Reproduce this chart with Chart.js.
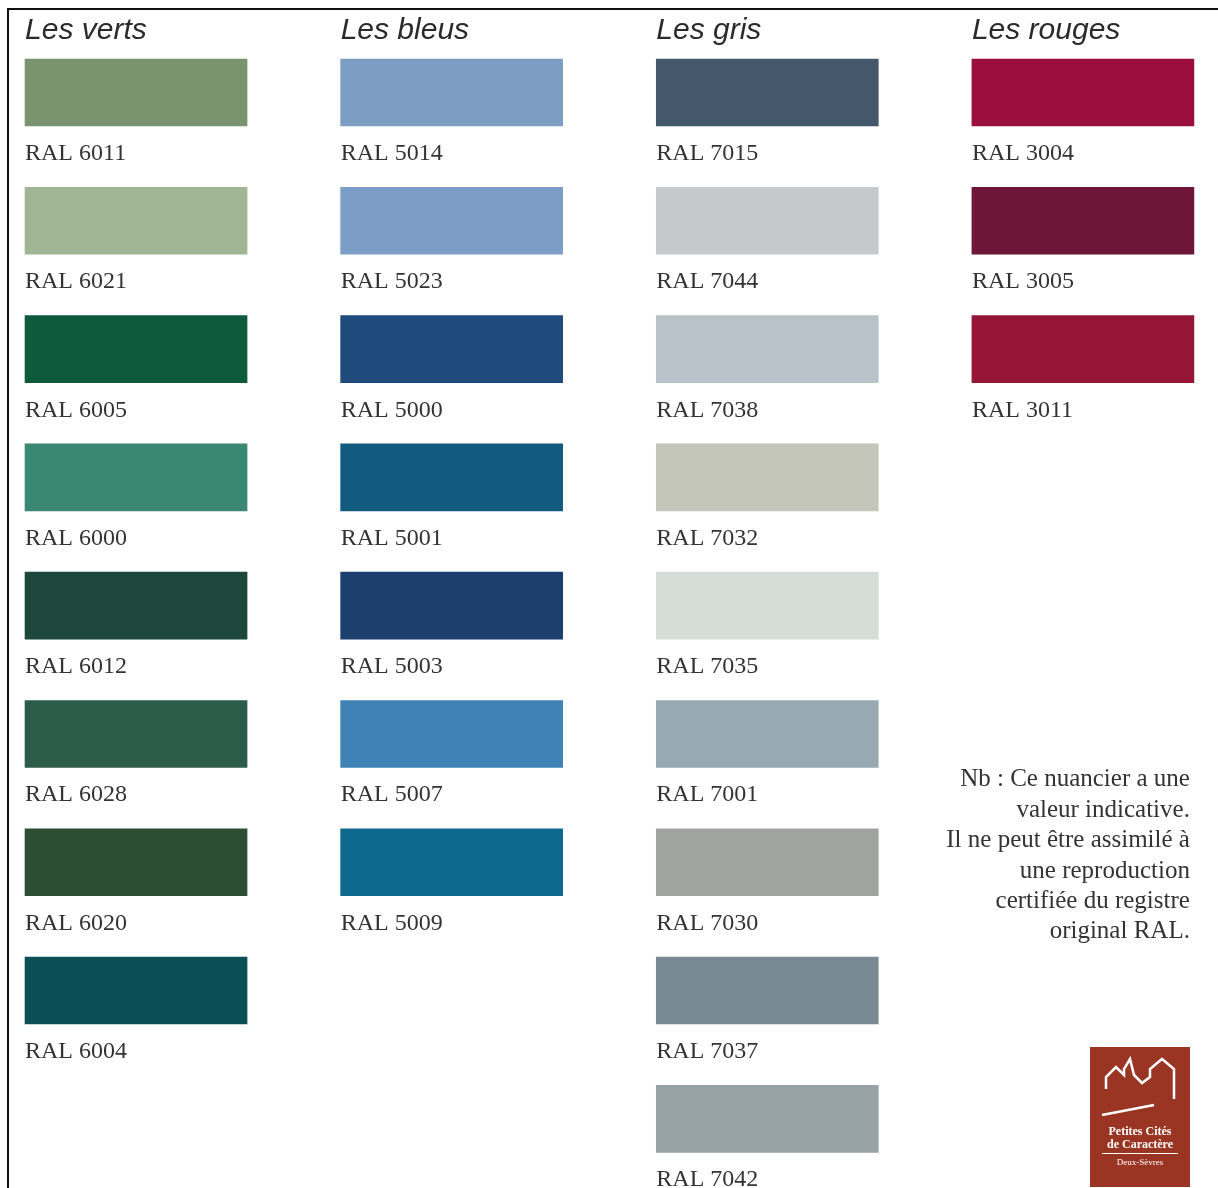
<!DOCTYPE html>
<html lang="fr">
<head>
  <meta charset="UTF-8">
  <title>Nuancier RAL</title>
  <script src="https://cdn.jsdelivr.net/npm/chart.js"></script>
  <style>
    body {
      margin: 0;
      background: #fff;
    }
    #wrap {
      width: 1218px;
      height: 1188px;
      position: relative;
    }
  </style>
</head>
<body>
  <div id="wrap">
    <canvas id="chart"></canvas>
  </div>

  <script>
    // colonnes du nuancier
    const groupTitles = ["Les verts", "Les bleus", "Les gris", "Les rouges"];

    const vertsCodes = ["RAL 6011", "RAL 6021", "RAL 6005", "RAL 6000", "RAL 6012", "RAL 6028", "RAL 6020", "RAL 6004"];
    const vertsColors = ["#7a946f", "#9fb594", "#0e5a3c", "#3a8872", "#1e473b", "#2d5b4a", "#2c4e33", "#0b4e55"];

    const bleusCodes = ["RAL 5014", "RAL 5023", "RAL 5000", "RAL 5001", "RAL 5003", "RAL 5007", "RAL 5009"];
    const bleusColors = ["#7d9ec3", "#7c9ec6", "#1f4b7c", "#135a80", "#1d3f6e", "#3f82b6", "#0f698e"];

    const grisCodes = ["RAL 7015", "RAL 7044", "RAL 7038", "RAL 7032", "RAL 7035", "RAL 7001", "RAL 7030", "RAL 7037", "RAL 7042"];
    const grisColors = ["#45576a", "#c6c8ca", "#b9c1c9", "#c3c6b8", "#d5ddd9", "#99a9b3", "#a0a49f", "#7a8a94", "#97a2a6"];

    const rougesCodes = ["RAL 3004", "RAL 3005", "RAL 3011"];
    const rougesColors = ["#9b0f3f", "#6e1638", "#951537"];

    const noteLines = [
      "Nb : Ce nuancier a une",
      "valeur indicative.",
      "Il ne peut être assimilé à",
      "une reproduction",
      "certifiée du registre",
      "original RAL."
    ];

    const groups = [
      { codes: vertsCodes, colors: vertsColors },
      { codes: bleusCodes, colors: bleusColors },
      { codes: grisCodes, colors: grisColors },
      { codes: rougesCodes, colors: rougesColors }
    ];

    const SWATCH_SPAN = 0.522; // hauteur d'une pastille, en rangs

    const points = [];
    const fills = [];
    const codes = [];
    groups.forEach((g, col) => {
      g.codes.forEach((code, row) => {
        points.push({ x: col, y: [row, row + SWATCH_SPAN] });
        fills.push(g.colors[row]);
        codes.push(code);
      });
    });

    const textPlugin = {
      id: "swatchText",
      afterDatasetsDraw(chart) {
        const ctx = chart.ctx;
        const meta = chart.getDatasetMeta(0);
        const xs = chart.scales.x;
        const ys = chart.scales.y;
        ctx.save();

        // cadre
        ctx.strokeStyle = "#111";
        ctx.lineWidth = 2;
        ctx.beginPath();
        ctx.moveTo(8, chart.height);
        ctx.lineTo(8, 9);
        ctx.lineTo(chart.width, 9);
        ctx.stroke();

        // libellés RAL
        ctx.fillStyle = "#333";
        ctx.font = "24px 'Liberation Serif', serif";
        ctx.textBaseline = "alphabetic";
        ctx.textAlign = "left";
        meta.data.forEach((bar, i) => {
          const left = bar.x - bar.width / 2;
          const bottom = Math.max(bar.y, bar.base);
          ctx.fillText(codes[i], left, bottom + 34);
        });

        // titres de colonnes
        ctx.font = "italic 30px 'Liberation Sans', Arial, sans-serif";
        ctx.fillStyle = "#2a2a2a";
        groupTitles.forEach((t, col) => {
          const bar = meta.data[codes.indexOf(groups[col].codes[0])];
          const left = bar.x - bar.width / 2;
          ctx.fillText(t, left, ys.getPixelForValue(0) - 20);
        });

        // note
        ctx.font = "25px 'Liberation Serif', serif";
        ctx.fillStyle = "#333";
        ctx.textAlign = "right";
        const noteRight = xs.getPixelForValue(3) + 107;
        const noteTop = ys.getPixelForValue(5.67);
        noteLines.forEach((l, i) => ctx.fillText(l, noteRight, noteTop + i * 30.4));

        // logo
        const lx = 1090, ly = 1047, lw = 100, lh = 140;
        ctx.fillStyle = "#9a3523";
        ctx.fillRect(lx, ly, lw, lh);
        ctx.strokeStyle = "#fff";
        ctx.lineWidth = 2.5;
        ctx.beginPath();
        ctx.moveTo(lx + 16, ly + 42);
        ctx.lineTo(lx + 16, ly + 30);
        ctx.lineTo(lx + 26, ly + 20);
        ctx.lineTo(lx + 34, ly + 28);
        ctx.lineTo(lx + 34, ly + 22);
        ctx.lineTo(lx + 40, ly + 12);
        ctx.lineTo(lx + 44, ly + 28);
        ctx.lineTo(lx + 52, ly + 36);
        ctx.lineTo(lx + 60, ly + 30);
        ctx.lineTo(lx + 60, ly + 22);
        ctx.lineTo(lx + 72, ly + 12);
        ctx.lineTo(lx + 84, ly + 22);
        ctx.lineTo(lx + 84, ly + 52);
        ctx.stroke();
        ctx.beginPath();
        ctx.moveTo(lx + 12, ly + 68);
        ctx.lineTo(lx + 64, ly + 58);
        ctx.stroke();
        ctx.fillStyle = "#fff";
        ctx.textAlign = "center";
        ctx.font = "bold 12px 'Liberation Serif', serif";
        ctx.fillText("Petites Cités", lx + lw / 2, ly + 88);
        ctx.fillText("de Caractère", lx + lw / 2, ly + 101);
        ctx.fillRect(lx + 12, ly + 106, lw - 24, 1);
        ctx.font = "9px 'Liberation Serif', serif";
        ctx.fillText("Deux-Sèvres", lx + lw / 2, ly + 118);

        ctx.restore();
      }
    };

    new Chart(document.getElementById("chart"), {
      type: "bar",
      data: {
        datasets: [{
          data: points,
          backgroundColor: fills,
          borderWidth: 0,
          barThickness: 222,
          grouped: false
        }]
      },
      options: {
        responsive: true,
        maintainAspectRatio: false,
        animation: false,
        layout: { padding: 0 },
        plugins: {
          legend: { display: false },
          tooltip: { enabled: false }
        },
        scales: {
          x: { type: "linear", min: -0.431, max: 3.428, offset: false, display: false },
          y: { type: "linear", min: -0.46, max: 8.80, offset: false, reverse: true, display: false }
        }
      },
      plugins: [textPlugin]
    });
  </script>
</body>
</html>
